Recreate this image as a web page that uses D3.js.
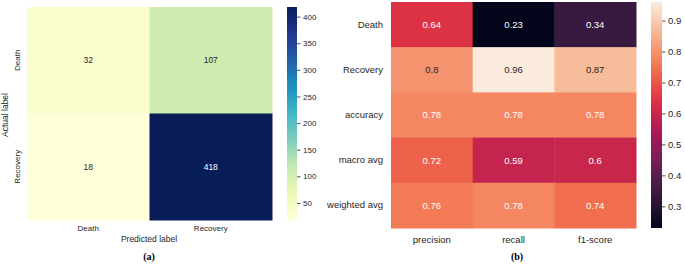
<!DOCTYPE html>
<html>
<head>
<meta charset="utf-8">
<script src="https://cdn.jsdelivr.net/npm/d3@7"></script>
<style>
  body { margin: 0; background: #fff; }
  svg { display: block; font-family: "Liberation Sans", Arial, sans-serif; }
</style>
</head>
<body>
<div id="chart"></div>
<script>
// (a) confusion matrix
const cmLabels = ["Death", "Recovery"];
const cmValues = [[32, 107], [18, 418]];
const cmTicks = [50, 100, 150, 200, 250, 300, 350, 400];

// (b) classification report
const repRows = ["Death", "Recovery", "accuracy", "macro avg", "weighted avg"];
const repCols = ["precision", "recall", "f1-score"];
const repValues = [
  [0.64, 0.23, 0.34],
  [0.8, 0.96, 0.87],
  [0.78, 0.78, 0.78],
  [0.72, 0.59, 0.6],
  [0.76, 0.78, 0.74]
];
const repTicks = [0.3, 0.4, 0.5, 0.6, 0.7, 0.8, 0.9];

const width = 685, height = 266;
const svg = d3.select("#chart").append("svg")
  .attr("width", width).attr("height", height);
const defs = svg.append("defs");

// matplotlib colormaps (linear segments)
const ylgnbu = ["#ffffd9","#edf8b1","#c7e9b4","#7fcdbb","#41b6c4","#1d91c0","#225ea8","#253494","#081d58"];
const rocket = ["#03051a","#35193e","#701f57","#ad1759","#e13342","#f37651","#f6b48f","#faebdd"];
const ramp = cols => d3.scaleLinear()
  .domain(d3.range(cols.length).map(i => i / (cols.length - 1)))
  .range(cols).interpolate(d3.interpolateRgb).clamp(true);
const ylgnbuT = ramp(ylgnbu), rocketT = ramp(rocket);

// seaborn picks annotation colour by luminance
function textColor(c) {
  const rgb = d3.rgb(c);
  const lin = v => { v /= 255; return v <= 0.03928 ? v / 12.92 : Math.pow((v + 0.055) / 1.055, 2.4); };
  const L = 0.2126 * lin(rgb.r) + 0.7152 * lin(rgb.g) + 0.0722 * lin(rgb.b);
  return L > 0.408 ? "#262626" : "#ffffff";
}

function heatmap(opt) {
  const { rows, cols, values, interp, box, cbar, ticks, fmt, fs, tickFs, id } = opt;
  const flat = values.flat();
  const [vmin, vmax] = d3.extent(flat);
  const color = v => interp((v - vmin) / (vmax - vmin));

  const x = d3.scaleBand().domain(cols).range([box.x0, box.x1]);
  const y = d3.scaleBand().domain(rows).range([box.y0, box.y1]);

  const cells = [];
  rows.forEach((r, i) => cols.forEach((c, j) => cells.push({ r, c, v: values[i][j] })));

  const g = svg.append("g");
  g.selectAll("rect").data(cells).join("rect")
    .attr("x", d => x(d.c)).attr("y", d => y(d.r))
    .attr("width", x.bandwidth() + 0.5).attr("height", y.bandwidth() + 0.5)
    .attr("fill", d => color(d.v));

  g.selectAll("text.ann").data(cells).join("text")
    .attr("class", "ann")
    .attr("x", d => x(d.c) + x.bandwidth() / 2)
    .attr("y", d => y(d.r) + y.bandwidth() / 2)
    .attr("text-anchor", "middle").attr("dy", "0.35em")
    .attr("font-size", fs)
    .attr("fill", d => textColor(color(d.v)))
    .text(d => fmt(d.v));

  // axes
  const xAxis = svg.append("g")
    .attr("transform", `translate(0,${box.y1})`)
    .call(d3.axisBottom(x).tickSize(0).tickPadding(opt.xPad));
  xAxis.select(".domain").remove();
  xAxis.selectAll("text").attr("font-size", tickFs).attr("fill", "#262626")
    .attr("font-family", "Liberation Sans, Arial, sans-serif");

  const yAxis = svg.append("g")
    .attr("transform", `translate(${box.x0},0)`)
    .call(d3.axisLeft(y).tickSize(0).tickPadding(opt.yPad));
  yAxis.select(".domain").remove();
  yAxis.selectAll("text").attr("font-size", tickFs).attr("fill", "#262626")
    .attr("font-family", "Liberation Sans, Arial, sans-serif");
  if (opt.rotateY) {
    yAxis.selectAll("text")
      .attr("text-anchor", "middle").attr("dy", 0).attr("x", 0)
      .attr("transform", d => `translate(${-opt.yPad},0) rotate(-90)`);
  }

  // colorbar
  const grad = defs.append("linearGradient").attr("id", id)
    .attr("x1", 0).attr("y1", 1).attr("x2", 0).attr("y2", 0);
  d3.range(0, 1.0001, 0.05).forEach(t =>
    grad.append("stop").attr("offset", t).attr("stop-color", interp(t)));
  svg.append("rect")
    .attr("x", cbar.x).attr("y", box.y0)
    .attr("width", cbar.w).attr("height", box.y1 - box.y0)
    .attr("fill", `url(#${id})`);
  const cy = d3.scaleLinear().domain([vmin, vmax]).range([box.y1, box.y0]);
  const cAxis = svg.append("g")
    .attr("transform", `translate(${cbar.x + cbar.w},0)`)
    .call(d3.axisRight(cy).tickValues(ticks).tickSize(3.5).tickPadding(2.5)
      .tickFormat(cbar.fmt));
  cAxis.select(".domain").remove();
  cAxis.selectAll("line").attr("stroke", "#262626").attr("stroke-width", 0.8);
  cAxis.selectAll("text").attr("font-size", cbar.fs).attr("fill", "#262626")
    .attr("font-family", "Liberation Sans, Arial, sans-serif");
}

heatmap({
  id: "cbA", rows: cmLabels, cols: cmLabels, values: cmValues, interp: ylgnbuT,
  box: { x0: 27, x1: 272, y0: 7, y1: 220 },
  cbar: { x: 287, w: 10, fs: 8, fmt: d3.format("d") },
  ticks: cmTicks, fmt: d3.format("d"), fs: 8.5, tickFs: 8,
  xPad: 5.5, yPad: 7.5, rotateY: true
});

heatmap({
  id: "cbB", rows: repRows, cols: repCols, values: repValues, interp: rocketT,
  box: { x0: 391, x1: 636, y0: 2, y1: 228 },
  cbar: { x: 651, w: 11, fs: 9.5, fmt: d3.format(".1f") },
  ticks: repTicks, fmt: v => String(v), fs: 9.5, tickFs: 9.5,
  xPad: 8, yPad: 8, rotateY: false
});

// axis titles
svg.append("text")
  .attr("transform", "translate(8,115) rotate(-90)")
  .attr("text-anchor", "middle").attr("font-size", 8.5).attr("fill", "#262626")
  .text("Actual label");
svg.append("text")
  .attr("x", 149).attr("y", 242)
  .attr("text-anchor", "middle").attr("font-size", 8.5).attr("fill", "#262626")
  .text("Predicted label");

// panel captions
svg.append("text")
  .attr("x", 149).attr("y", 260).attr("text-anchor", "middle")
  .attr("font-family", "Liberation Serif, serif").attr("font-weight", "bold")
  .attr("font-size", 10).text("(a)");
svg.append("text")
  .attr("x", 517).attr("y", 260).attr("text-anchor", "middle")
  .attr("font-family", "Liberation Serif, serif").attr("font-weight", "bold")
  .attr("font-size", 10).text("(b)");
</script>
</body>
</html>
